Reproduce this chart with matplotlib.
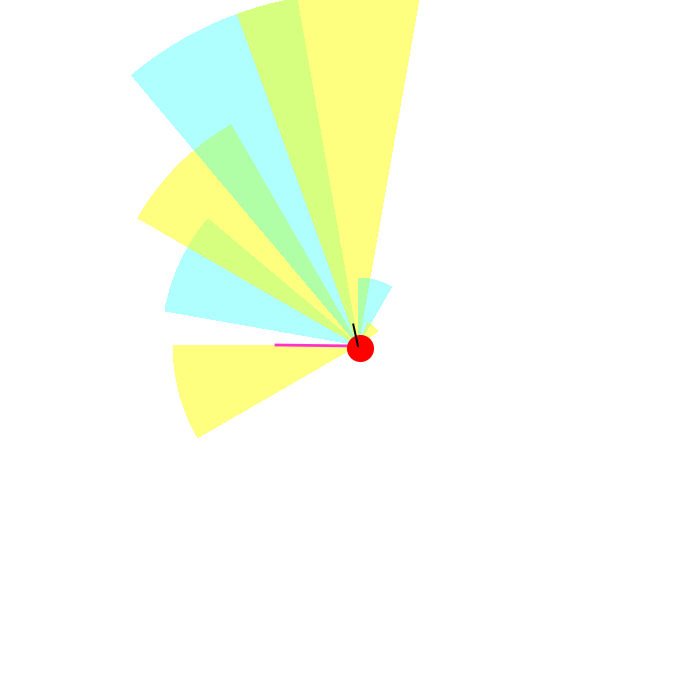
import numpy as np
import matplotlib
matplotlib.use("Agg")
from matplotlib import pyplot as plt
from matplotlib.patches import Wedge

# Sectors: compass angles in degrees (clockwise from north) and radius
sector_start = [-120, -80, -60, -40, -20, 0, 25]
sector_end = [-90, -50, -30, -10, 10, 30, 55]
sector_radius = [185, 196, 254, 352, 352, 67, 24]
sector_kind = ['y', 'c', 'y', 'c', 'y', 'c', 'y']

# Needles: compass angle and length
needle_angles = [-90, -13]
needle_lengths = [82, 21]
needle_colors = ['#ff33cc', 'black']
needle_widths = [2.0, 1.4]
needle_z = [3, 5]

fill = {'y': ((1.0, 1.0, 0.0), 0.5), 'c': ((0.0, 1.0, 1.0), 0.31)}

fig = plt.figure(figsize=(7, 7), dpi=100)
ax = fig.add_axes([0, 0, 1, 1])
ax.set_xlim(-358, 342)
ax.set_ylim(-355, 345)
ax.set_aspect('equal')
ax.axis('off')

for a0, a1, r, k in zip(sector_start, sector_end, sector_radius, sector_kind):
    col, alpha = fill[k]
    ax.add_patch(Wedge((0, 0), r, 90 - a1, 90 - a0, facecolor=col,
                       alpha=alpha, edgecolor='none', antialiased=False))

for ang, length, col, w, z in zip(needle_angles, needle_lengths, needle_colors,
                                  needle_widths, needle_z):
    t = np.radians(ang)
    ax.plot([0, length * np.sin(t)], [-1, length * np.cos(t)], color=col,
            lw=w, zorder=z)

# red hub
ax.plot([1.5], [-3], 'o', color='red', markersize=19.5, markeredgewidth=0,
        antialiased=False, zorder=4)

fig.savefig('out.png', dpi=100)
